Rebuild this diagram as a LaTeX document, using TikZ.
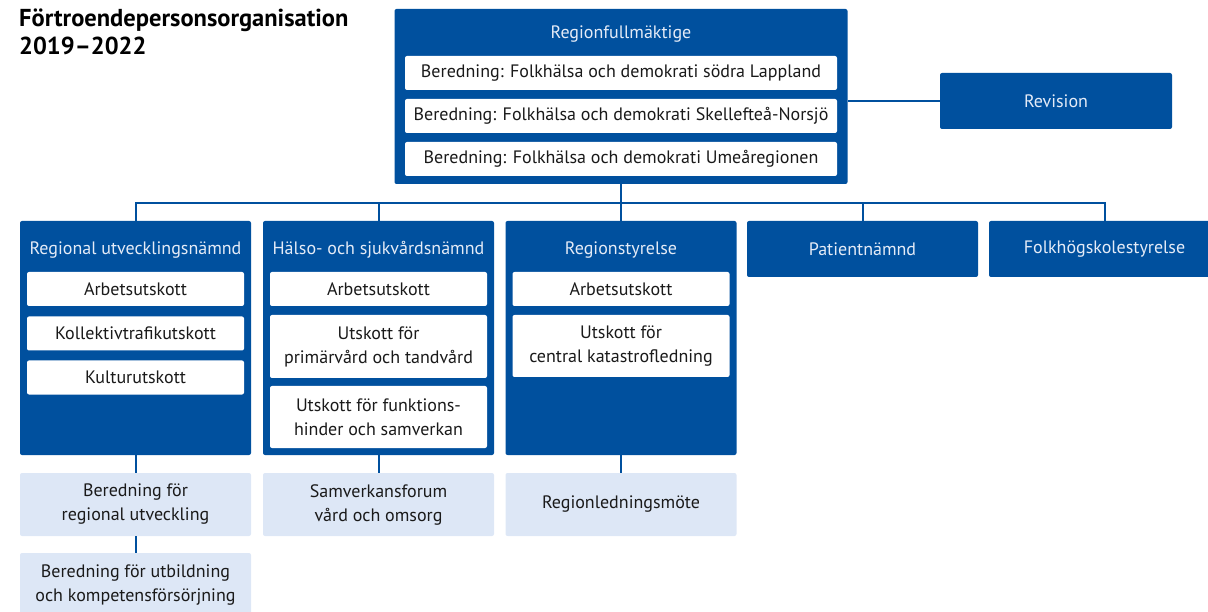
\documentclass[tikz,border=0pt]{standalone}
\usepackage{fontspec}
\setmainfont{PT Sans}
\definecolor{regblue}{HTML}{00509E}
\definecolor{regpale}{HTML}{DDE7F6}
\definecolor{regtext}{HTML}{E4EBF7}
\definecolor{boxtext}{HTML}{1A1A1A}

\begin{document}
\begin{tikzpicture}[x=1pt, y=-1pt,
	bluebox/.style={fill=regblue, rounded corners=2pt, inner sep=0pt, text=regtext, font=\fontsize{18}{24}\selectfont},
	whitebox/.style={fill=white, rounded corners=2pt, inner sep=0pt, minimum width=217pt, minimum height=34pt, align=center, text=boxtext, font=\fontsize{18}{24}\selectfont},
	palebox/.style={fill=regpale, rounded corners=2pt, inner sep=0pt, minimum width=231pt, minimum height=63pt, align=center, text=boxtext, font=\fontsize{18}{24}\selectfont},
	head/.style={text=regtext, inner sep=0pt, font=\fontsize{18}{24}\selectfont},
	link/.style={draw=regblue, line width=2pt}]
	\useasboundingbox (0,0) rectangle (1208,612);
	\clip (0,0) rectangle (1208,612);

	\node (title) [anchor=base west, align=left, inner sep=0pt, font=\bfseries\fontsize{24.5}{28}\selectfont] at (19,55) {Förtroendepersonsorganisation\\2019--2022};

	% Regionfullmäktige
	\node (RF) [bluebox, minimum width=453pt, minimum height=175pt] at (621,96.5) {};
	\node (RFt) [head] at (621,34) {Regionfullmäktige};
	\node (B1) [whitebox, minimum width=432pt] at (621,73) {Beredning: Folkhälsa och demokrati södra Lappland};
	\node (B2) [whitebox, minimum width=432pt] at (621,116) {Beredning: Folkhälsa och demokrati Skellefteå-Norsjö};
	\node (B3) [whitebox, minimum width=432pt] at (621,159) {Beredning: Folkhälsa och demokrati Umeåregionen};

	\node (Rev) [bluebox, minimum width=232pt, minimum height=56pt] at (1056,101) {Revision};

	% nämnder
	\node (RUN) [bluebox, minimum width=231pt, minimum height=234pt] at (135.5,338) {};
	\node (HSN) [bluebox, minimum width=231pt, minimum height=234pt] at (378.5,338) {};
	\node (RS) [bluebox, minimum width=231pt, minimum height=234pt] at (621,338) {};
	\node (PN) [bluebox, minimum width=231pt, minimum height=56pt] at (862.5,249) {Patientnämnd};
	\node (FHS) [bluebox, minimum width=231pt, minimum height=56pt] at (1104.5,249) {Folkhögskolestyrelse};

	\node (RUNt) [head] at (135.5,250) {Regional utvecklingsnämnd};
	\node (HSNt) [head] at (378.5,250) {Hälso- och sjukvårdsnämnd};
	\node (RSt) [head] at (621,250) {Regionstyrelse};

	\node (RUN1) [whitebox] at (135.5,289) {Arbetsutskott};
	\node (RUN2) [whitebox] at (135.5,333.5) {Kollektivtrafikutskott};
	\node (RUN3) [whitebox] at (135.5,377.5) {Kulturutskott};

	\node (HSN1) [whitebox] at (378.5,289) {Arbetsutskott};
	\node (HSN2) [whitebox, minimum height=63pt] at (378.5,346.5) {Utskott för\\primärvård och tandvård};
	\node (HSN3) [whitebox, minimum height=62pt] at (378.5,417) {Utskott för funktions-\\hinder och samverkan};

	\node (RS1) [whitebox] at (621,289) {Arbetsutskott};
	\node (RS2) [whitebox, minimum height=62pt] at (621,346) {Utskott för\\central katastrofledning};

	% beredningar och forum
	\node (BRU) [palebox] at (135.5,504.5) {Beredning för\\regional utveckling};
	\node (BUK) [palebox, minimum height=65pt] at (135.5,585.5) {Beredning för utbildning\\och kompetensförsörjning};
	\node (SVO) [palebox] at (378.5,504.5) {Samverkansforum\\vård och omsorg};
	\node (RLM) [palebox] at (621,504.5) {Regionledningsmöte};

	\coordinate (bus) at (621,203);
	\draw [link] (RF.south) -- (RS.north);
	\draw [link] (bus) -| (RUN.north);
	\draw [link] (bus) -| (HSN.north);
	\draw [link] (bus) -| (PN.north);
	\draw [link] (bus) -| (FHS.north);
	\draw [link] (Rev.west) -- (Rev.west -| RF.east);

	\draw [link] (RUN.south) -- (BRU.north);
	\draw [link] (BRU.south) -- (BUK.north);
	\draw [link] (HSN.south) -- (SVO.north);
	\draw [link] (RS.south) -- (RLM.north);
\end{tikzpicture}
\end{document}
